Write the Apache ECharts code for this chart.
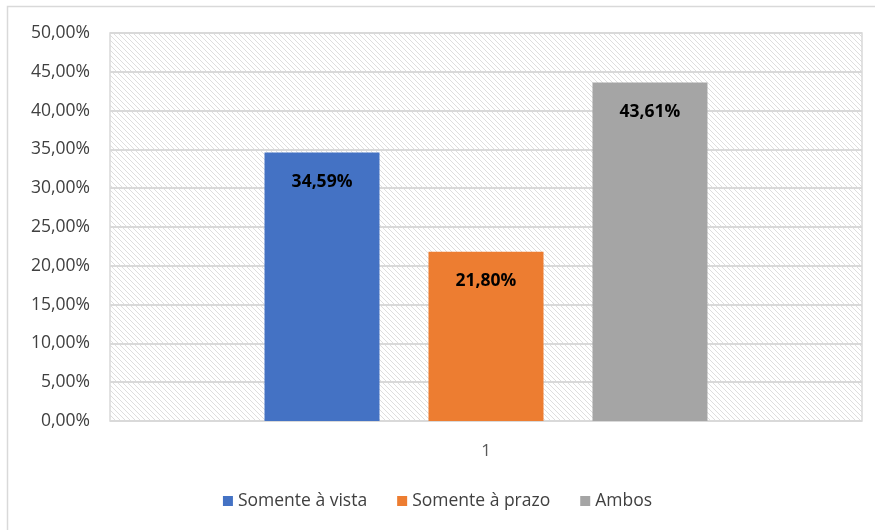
<!DOCTYPE html>
<html>
<head>
<meta charset="utf-8">
<script src="https://cdn.jsdelivr.net/npm/echarts@6/dist/echarts.min.js"></script>
<style>
  html, body { margin: 0; padding: 0; background: #fff; }
  #chart { width: 875px; height: 530px; }
</style>
</head>
<body>
<div id="chart"></div>
<script>
// Share of purchases by payment type
const categories = ['1'];
const seriesNames = ['Somente à vista', 'Somente à prazo', 'Ambos'];
const seriesValues = [[34.59], [21.80], [43.61]];
const seriesColors = ['#4472C4', '#ED7D31', '#A5A5A5'];

// Diagonal hatch used as the plot-area fill
function hatchPattern() {
  const c = document.createElement('canvas');
  c.width = 5; c.height = 5;
  const g = c.getContext('2d');
  g.fillStyle = '#ffffff';
  g.fillRect(0, 0, 5, 5);
  g.strokeStyle = '#dedede';
  g.lineWidth = 1;
  g.beginPath();
  g.moveTo(-1, -1); g.lineTo(6, 6);
  g.moveTo(-1, 4); g.lineTo(1, 6);
  g.moveTo(4, -1); g.lineTo(6, 1);
  g.stroke();
  return c;
}

const fmt = v => v.toFixed(2).replace('.', ',') + '%';
const FONT = 'Open Sans';

const chart = echarts.init(document.getElementById('chart'), null, { renderer: 'canvas' });
chart.setOption({
  animation: false,
  textStyle: { fontFamily: FONT },
  graphic: [{
    type: 'rect',
    shape: { x: 7.5, y: 6.5, width: 880, height: 540 },
    style: { fill: 'none', stroke: '#d9d9d9', lineWidth: 1.5 },
    z: -10
  }],
  grid: {
    left: 110, right: 13, top: 33, bottom: 109,
    show: true,
    backgroundColor: { image: hatchPattern(), repeat: 'repeat' },
    borderColor: '#d9d9d9',
    borderWidth: 1.5
  },
  legend: {
    bottom: 15,
    left: 'center',
    itemWidth: 10, itemHeight: 10,
    itemGap: 30,
    icon: 'rect',
    textStyle: { color: '#404040', fontSize: 17.5, fontFamily: FONT },
    data: seriesNames
  },
  xAxis: {
    type: 'category',
    data: categories,
    axisLine: { show: false },
    axisTick: { show: false },
    axisLabel: { color: '#595959', fontSize: 17, margin: 22 }
  },
  yAxis: {
    type: 'value',
    min: 0, max: 50, interval: 5,
    axisLine: { show: false },
    axisTick: { show: false },
    splitLine: { lineStyle: { color: '#d9d9d9', width: 2 } },
    axisLabel: { color: '#404040', fontSize: 17.5, margin: 20, formatter: v => fmt(v) }
  },
  series: seriesNames.map((name, i) => ({
    name,
    type: 'bar',
    data: seriesValues[i],
    barWidth: 115,
    barGap: '42.6%',
    itemStyle: { color: seriesColors[i] },
    label: {
      show: true,
      position: 'insideTop',
      distance: 20,
      color: '#000',
      fontWeight: 'bold',
      fontSize: 17.5,
      formatter: p => fmt(p.value)
    }
  }))
});
</script>
</body>
</html>
